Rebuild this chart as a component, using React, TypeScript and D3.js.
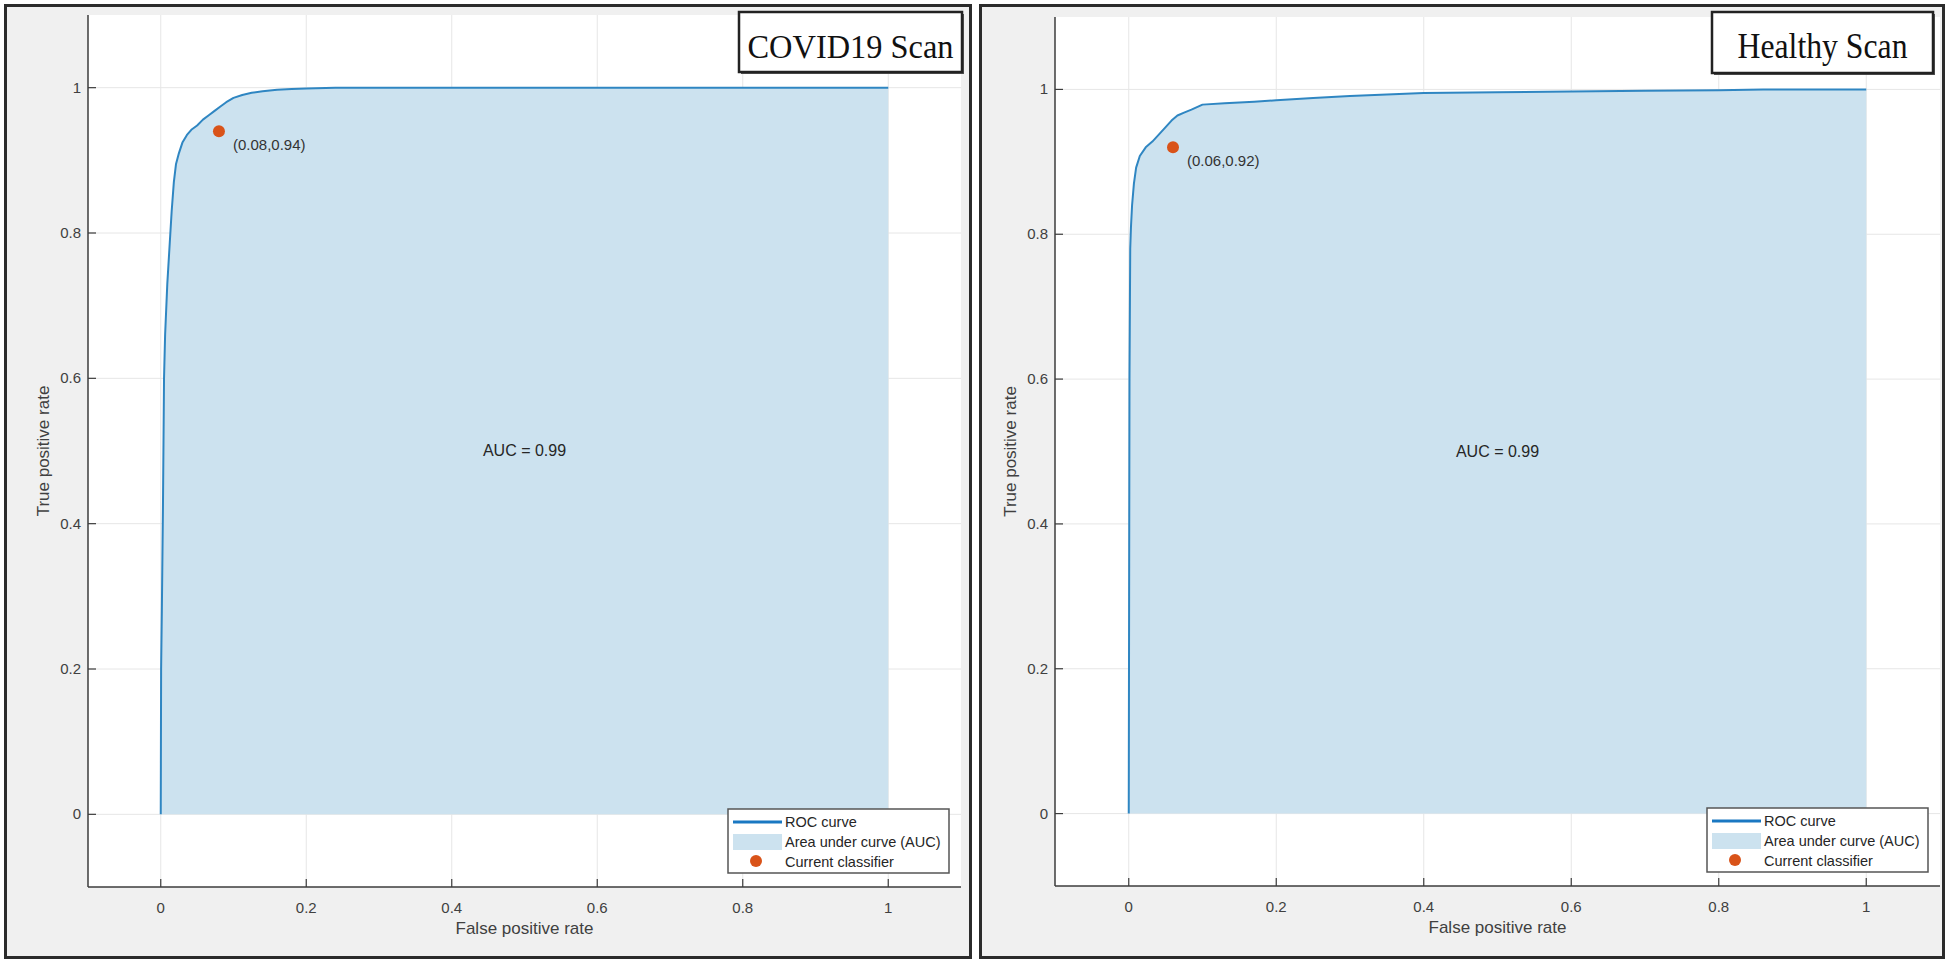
import React from "react";
import * as d3 from "d3";

// ROC data
const covidFpr = [0, 0.0005, 0.0015, 0.003, 0.0045, 0.006, 0.009, 0.012, 0.015, 0.018, 0.021, 0.025, 0.03, 0.036, 0.042, 0.05, 0.058, 0.066, 0.074, 0.082, 0.09, 0.1, 0.112, 0.125, 0.14, 0.16, 0.18, 0.2, 0.24, 0.3, 1];
const covidTpr = [0, 0.2, 0.28, 0.42, 0.6, 0.66, 0.73, 0.78, 0.83, 0.87, 0.895, 0.91, 0.925, 0.935, 0.942, 0.948, 0.956, 0.962, 0.968, 0.974, 0.98, 0.986, 0.99, 0.993, 0.995, 0.997, 0.998, 0.999, 1, 1, 1];

const healthyFpr = [0, 0.0005, 0.001, 0.002, 0.003, 0.0045, 0.007, 0.01, 0.015, 0.023, 0.032, 0.041, 0.05, 0.058, 0.066, 0.075, 0.085, 0.1, 0.13, 0.17, 0.2, 0.25, 0.3, 0.35, 0.4, 0.5, 0.6, 0.7, 0.8, 0.86, 1];
const healthyTpr = [0, 0.3, 0.6, 0.78, 0.81, 0.84, 0.87, 0.892, 0.908, 0.92, 0.928, 0.938, 0.948, 0.957, 0.964, 0.968, 0.972, 0.979, 0.981, 0.983, 0.985, 0.988, 0.991, 0.993, 0.995, 0.996, 0.997, 0.998, 0.999, 1, 1];

const panelTitles = ["COVID19 Scan", "Healthy Scan"];
const classifierPoints = [[0.08, 0.94], [0.06, 0.92]];
const aucValues = [0.99, 0.99];

const ticks = [0, 0.2, 0.4, 0.6, 0.8, 1];
const legendLabels = ["ROC curve", "Area under curve (AUC)", "Current classifier"];
const xLabel = "False positive rate";
const yLabel = "True positive rate";

const SANS = "'Liberation Sans', Arial, Helvetica, sans-serif";
const SERIF = "'Liberation Serif', 'Times New Roman', serif";
const LINE = "#2f86c2";
const FILL = "#cce2ef";
const DOT = "#d95319";

type Geo = {
  frame: [number, number, number, number];
  axes: { left: number; right: number; top: number; bottom: number };
  titleBox: [number, number, number, number];
  titleSize: number;
  titleLen: number;
};

const geos: Geo[] = [
  {
    frame: [5.5, 5.5, 965, 952],
    axes: { left: 88, right: 961, top: 15, bottom: 887 },
    titleBox: [739, 12, 223, 60],
    titleSize: 33,
    titleLen: 206,
  },
  {
    frame: [980.5, 5.5, 963, 952],
    axes: { left: 1055, right: 1940, top: 17, bottom: 886 },
    titleBox: [1712, 12, 221, 61],
    titleSize: 35,
    titleLen: 170,
  },
];

const Panel = ({ i, fpr, tpr }: { i: number; fpr: number[]; tpr: number[] }) => {
  const g = geos[i];
  const { left, right, top, bottom } = g.axes;
  const x = d3.scaleLinear().domain([-0.1, 1.1]).range([left, right]);
  const y = d3.scaleLinear().domain([-0.1, 1.1]).range([bottom, top]);
  const pts = fpr.map((f, k) => [f, tpr[k]] as [number, number]);

  const line = d3.line<[number, number]>().x((d) => x(d[0])).y((d) => y(d[1]));
  const area = d3
    .area<[number, number]>()
    .x((d) => x(d[0]))
    .y0(y(0))
    .y1((d) => y(d[1]));

  const [px, py] = classifierPoints[i];
  const [fx, fy, fw, fh] = g.frame;
  const [tx, ty, tw, th] = g.titleBox;

  const lgW = 221;
  const lgH = 64;
  const lgX = right - 12 - lgW;
  const lgY = bottom - 14 - lgH;

  return (
    <g>
      <rect x={fx} y={fy} width={fw} height={fh} fill="#f0f0f0" stroke="#2b2b2b" strokeWidth={3} />
      <rect x={left} y={top} width={right - left} height={bottom - top} fill="#ffffff" />

      {/* grid */}
      {ticks.map((t) => (
        <line key={"gx" + t} x1={x(t)} x2={x(t)} y1={top} y2={bottom} stroke="#e6e6e6" strokeWidth={1} />
      ))}
      {ticks.map((t) => (
        <line key={"gy" + t} x1={left} x2={right} y1={y(t)} y2={y(t)} stroke="#e6e6e6" strokeWidth={1} />
      ))}

      {/* AUC area and ROC curve */}
      <path d={area(pts) || ""} fill={FILL} />
      <path d={line(pts) || ""} fill="none" stroke={LINE} strokeWidth={2} strokeLinejoin="round" />

      <circle cx={x(px)} cy={y(py)} r={6} fill={DOT} />
      <text x={x(px) + 14} y={y(py) + 19} fontFamily={SANS} fontSize={15} fill="#333">
        {`(${px.toFixed(2)},${py.toFixed(2)})`}
      </text>

      <text x={x(0.5)} y={y(0.5) + 5} textAnchor="middle" fontFamily={SANS} fontSize={16} fill="#262626">
        {`AUC = ${aucValues[i].toFixed(2)}`}
      </text>

      {/* axes */}
      <line x1={left} x2={left} y1={top} y2={bottom} stroke="#3c3c3c" strokeWidth={1.5} />
      <line x1={left} x2={right} y1={bottom} y2={bottom} stroke="#3c3c3c" strokeWidth={1.5} />
      {ticks.map((t, k) => (
        <g key={"xt" + t}>
          <line x1={x(t)} x2={x(t)} y1={bottom} y2={bottom - 8} stroke="#3c3c3c" strokeWidth={1.2} />
          <text x={x(t)} y={bottom + 26} textAnchor="middle" fontFamily={SANS} fontSize={15} fill="#404040">
            {d3.format("~g")(t)}
          </text>
        </g>
      ))}
      {ticks.map((t) => (
        <g key={"yt" + t}>
          <line x1={left} x2={left + 8} y1={y(t)} y2={y(t)} stroke="#3c3c3c" strokeWidth={1.2} />
          <text x={left - 7} y={y(t) + 5} textAnchor="end" fontFamily={SANS} fontSize={15} fill="#404040">
            {d3.format("~g")(t)}
          </text>
        </g>
      ))}
      <text x={(left + right) / 2} y={bottom + 47} textAnchor="middle" fontFamily={SANS} fontSize={17} fill="#404040">
        {xLabel}
      </text>
      <text
        transform={`translate(${left - 39},${(top + bottom) / 2}) rotate(-90)`}
        textAnchor="middle"
        fontFamily={SANS}
        fontSize={17}
        fill="#404040"
      >
        {yLabel}
      </text>

      {/* legend */}
      <rect x={lgX} y={lgY} width={lgW} height={lgH} fill="#ffffff" stroke="#555" strokeWidth={1.5} />
      <line x1={lgX + 5} x2={lgX + 54} y1={lgY + 13} y2={lgY + 13} stroke="#1a78c2" strokeWidth={3} />
      <rect x={lgX + 5} y={lgY + 25} width={49} height={16} fill={FILL} />
      <circle cx={lgX + 28} cy={lgY + 52} r={6} fill={DOT} />
      {legendLabels.map((l, k) => (
        <text key={l} x={lgX + 57} y={lgY + 18 + k * 20} fontFamily={SANS} fontSize={14.5} fill="#262626">
          {l}
        </text>
      ))}

      {/* title box */}
      <rect x={tx + 2} y={ty + 2} width={tw} height={th} fill="#555" />
      <rect x={tx} y={ty} width={tw} height={th} fill="#ffffff" stroke="#222" strokeWidth={2.5} />
      <text
        x={tx + tw / 2}
        y={ty + 46}
        textAnchor="middle"
        fontFamily={SERIF}
        fontSize={g.titleSize}
        textLength={g.titleLen}
        lengthAdjust="spacingAndGlyphs"
        fill="#111"
      >
        {panelTitles[i]}
      </text>
    </g>
  );
};

export default function App() {
  return (
    <svg
      width={1950}
      height={965}
      style={{ position: "absolute", left: 0, top: 0, background: "#ffffff" }}
    >
      <Panel i={0} fpr={covidFpr} tpr={covidTpr} />
      <Panel i={1} fpr={healthyFpr} tpr={healthyTpr} />
    </svg>
  );
}
